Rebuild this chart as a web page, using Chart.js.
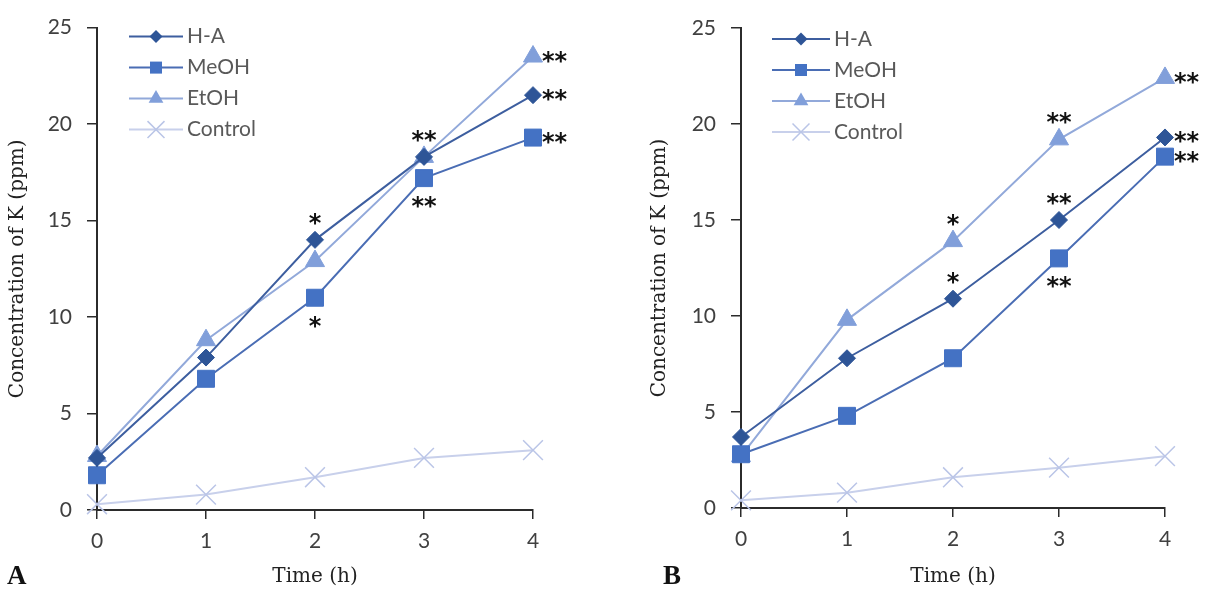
<!DOCTYPE html>
<html lang="en">
<head>
<meta charset="UTF-8">
<title>Concentration of K</title>
<style>
    body {
        margin: 0;
        background: #fff;
    }

    #wrap {
        position: relative;
        width: 1217px;
        height: 593px;
    }

    .panel {
        position: absolute;
        top: 0;
        height: 593px;
    }

    #pa { left: 0; width: 600px; }
    #pb { left: 600px; width: 617px; }

    /* panel letters */
    .tag {
        position: absolute;
        font: bold 27px "Liberation Serif", serif;
        color: #111;
    }
</style>
</head>
<body>
<div id="wrap">
    <div class="panel" id="pa"><canvas id="chartA" width="600" height="593"></canvas></div>
    <div class="panel" id="pb"><canvas id="chartB" width="617" height="593"></canvas></div>
    <div class="tag" style="left:7px; top:560px;">A</div>
    <div class="tag" style="left:663px; top:560px;">B</div>
</div>

<script src="https://cdn.jsdelivr.net/npm/chart.js"></script>
<script>
    // x categories (hours) and y ticks
    const times = [0, 1, 2, 3, 4];
    const yMin = 0, yMax = 25, yStep = 5;
    const seriesNames = ['H-A', 'MeOH', 'EtOH', 'Control'];

    // panel A values (ppm)
    const haA = [2.7, 7.9, 14.0, 18.3, 21.5];
    const meohA = [1.8, 6.8, 11.0, 17.2, 19.3];
    const etohA = [2.8, 8.8, 12.9, 18.3, 23.5];
    const ctrlA = [0.3, 0.8, 1.7, 2.7, 3.1];

    // panel B values (ppm)
    const haB = [3.7, 7.8, 10.9, 15.0, 19.3];
    const meohB = [2.8, 4.8, 7.8, 13.0, 18.3];
    const etohB = [2.7, 9.8, 13.9, 19.2, 22.4];
    const ctrlB = [0.4, 0.8, 1.6, 2.1, 2.7];

    // significance marks: [time index, series index, text, side]
    const starsA = [
        [2, 0, '*', 'above'], [2, 1, '*', 'below'],
        [3, 0, '**', 'above'], [3, 1, '**', 'below'],
        [4, 2, '**', 'right'], [4, 0, '**', 'right'], [4, 1, '**', 'right']
    ];
    const starsB = [
        [2, 2, '*', 'above'], [2, 0, '*', 'above'],
        [3, 2, '**', 'above'], [3, 0, '**', 'above'], [3, 1, '**', 'below'],
        [4, 2, '**', 'right'], [4, 0, '**', 'right'], [4, 1, '**', 'right']
    ];

    const looks = [
        { line: '#3D5E9F', fill: '#2E5597', style: 'rectRot', r: 8.5, lr: 6.5 },
        { line: '#4A6DB4', fill: '#4472C4', style: 'rect', r: 12, lr: 8.5 },
        { line: '#92A9DA', fill: '#819FDA', style: 'triangle', r: 11, lr: 8.5 },
        { line: '#C8D0EB', fill: '#BAC5E7', style: 'crossRot', r: 14, lr: 12 }
    ];

    const tickFont = { family: 'Lato', size: 21 };
    const titleFont = { family: '"DejaVu Serif"', size: 20 };

    function drawMarker(ctx, look, r, x, y) {
        ctx.save();
        ctx.fillStyle = look.fill;
        ctx.strokeStyle = look.fill;
        ctx.lineWidth = 1.5;
        ctx.beginPath();
        if (look.style === 'rectRot') {
            ctx.moveTo(x, y - r); ctx.lineTo(x + r, y); ctx.lineTo(x, y + r); ctx.lineTo(x - r, y);
            ctx.closePath(); ctx.fill();
        } else if (look.style === 'rect') {
            const h = r * Math.SQRT1_2;
            ctx.rect(x - h, y - h, 2 * h, 2 * h); ctx.fill();
        } else if (look.style === 'triangle') {
            ctx.moveTo(x, y - r); ctx.lineTo(x + r * 0.866, y + r / 2); ctx.lineTo(x - r * 0.866, y + r / 2);
            ctx.closePath(); ctx.fill();
        } else {
            const h = r * Math.SQRT1_2;
            ctx.moveTo(x - h, y - h); ctx.lineTo(x + h, y + h);
            ctx.moveTo(x + h, y - h); ctx.lineTo(x - h, y + h);
            ctx.stroke();
        }
        ctx.restore();
    }

    // legend inside the plot + the asterisks
    const extras = {
        id: 'extras',
        afterDraw(chart, args, opts) {
            const ctx = chart.ctx;
            const area = chart.chartArea;
            const xs = chart.scales.x, ys = chart.scales.y;

            ctx.save();
            chart.data.datasets.forEach((ds, i) => {
                const look = looks[i];
                const y = area.top + opts.legTop + i * opts.legGap;
                const x0 = area.left + opts.legLeft;
                ctx.strokeStyle = look.line;
                ctx.lineWidth = 2;
                ctx.beginPath();
                ctx.moveTo(x0, y);
                ctx.lineTo(x0 + opts.legLen, y);
                ctx.stroke();
                drawMarker(ctx, look, look.lr, x0 + opts.legLen / 2, y);
                ctx.fillStyle = '#595959';
                ctx.font = '21px Lato';
                ctx.textAlign = 'left';
                ctx.textBaseline = 'middle';
                ctx.fillText(ds.label, x0 + opts.legLen + 4, y);
            });

            ctx.font = 'bold 24px "DejaVu Sans"';
            ctx.fillStyle = '#111';
            ctx.textBaseline = 'alphabetic';
            const m = ctx.measureText('*');
            const mid = (m.actualBoundingBoxAscent - m.actualBoundingBoxDescent) / 2;
            opts.stars.forEach(([ti, si, text, side]) => {
                const px = xs.getPixelForValue(ti);
                const py = ys.getPixelForValue(chart.data.datasets[si].data[ti]);
                if (side === 'right') {
                    ctx.textAlign = 'left';
                    ctx.fillText(text, px + 9, py + mid);
                } else {
                    ctx.textAlign = 'center';
                    const cy = side === 'above' ? py - 21 : py + 24;
                    ctx.fillText(text, px, cy + mid);
                }
            });
            ctx.restore();
        }
    };

    function makeChart(id, values, stars, box) {
        const datasets = values.map((vals, i) => ({
            label: seriesNames[i],
            data: vals,
            borderColor: looks[i].line,
            backgroundColor: looks[i].fill,
            pointBackgroundColor: looks[i].fill,
            pointBorderColor: looks[i].fill,
            pointStyle: looks[i].style,
            pointRadius: looks[i].r,
            pointBorderWidth: i === 3 ? 1.5 : 1,
            borderWidth: 2,
            tension: 0,
            clip: false
        }));

        return new Chart(document.getElementById(id), {
            type: 'line',
            data: { labels: times, datasets: datasets },
            plugins: [extras],
            options: {
                responsive: false,
                animation: false,
                layout: {
                    autoPadding: false,
                    padding: { top: box.top, right: box.right, left: 0, bottom: 0 }
                },
                plugins: {
                    legend: { display: false },
                    tooltip: { enabled: false },
                    extras: { stars: stars, legLeft: box.legLeft, legTop: box.legTop, legGap: box.legGap, legLen: box.legLen }
                },
                scales: {
                    x: {
                        offset: false,
                        afterFit: s => { s.height = box.xh; },
                        grid: { drawOnChartArea: false, drawTicks: true, tickLength: 9, color: '#2b2b2b', lineWidth: 1.5 },
                        border: { color: '#2b2b2b', width: 2 },
                        ticks: { font: tickFont, color: '#404040', padding: 10, maxRotation: 0 },
                        title: { display: true, text: 'Time (h)', font: titleFont, color: '#222', padding: { bottom: box.xtp } }
                    },
                    y: {
                        min: yMin, max: yMax,
                        afterFit: s => { s.width = box.yw; },
                        grid: { drawOnChartArea: false, drawTicks: true, tickLength: 10, color: '#2b2b2b', lineWidth: 1.5 },
                        border: { color: '#2b2b2b', width: 2 },
                        ticks: { stepSize: yStep, font: tickFont, color: '#404040', padding: 15 },
                        title: { display: true, text: 'Concentration of K (ppm)', font: titleFont, color: '#222', padding: { top: box.ytp } }
                    }
                }
            }
        });
    }

    makeChart('chartA', [haA, meohA, etohA, ctrlA], starsA,
        { top: 25, right: 67, xh: 83, yw: 97, xtp: 4, ytp: 6, legLeft: 32, legTop: 9, legGap: 31, legLen: 54 });
    makeChart('chartB', [haB, meohB, etohB, ctrlB], starsB,
        { top: 28, right: 52, xh: 85, yw: 141, xtp: 4, ytp: 48, legLeft: 31, legTop: 11, legGap: 31, legLen: 58 });
</script>
</body>
</html>
